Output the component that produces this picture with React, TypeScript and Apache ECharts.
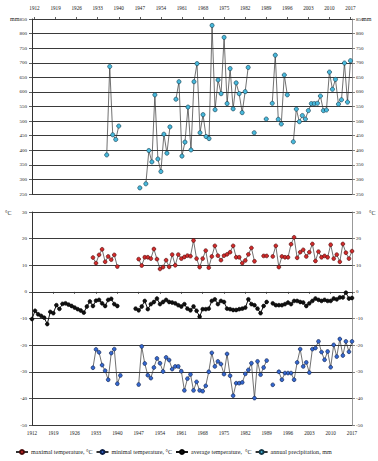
import React, { useEffect, useRef } from "react";
import * as echarts from "echarts";

const firstYear = 1912;
const lastYear = 2017;
const years: string[] = Array.from({ length: lastYear - firstYear + 1 }, (_, i) => String(firstYear + i));

// annual precipitation, mm (from 1936; null = no data)
const precipStart = 1936;
const precipValues: (number | null)[] = [
  384, 687, 453, 437, 483, null, null, null, null, null, null,
  271, null, 285, 399, 360, 590, 370, 327, 455, 390, 480, null,
  575, 635, 380, 428, 548, 401, 635, 697, 460, 522, 447, 440, 828, 539, 641, 594, 787, 560, 680, 542, 631, 594, 529, 601, 684,
  null, 460, null, null, null, 507, null,
  561, 726, 506, 490, 658, 590, null,
  429, 541, 498, 519, 507, 536, 560, 560, 561, 586, 536, 538, 668, 609, 643, 558, 573, 699, 565, 707,
];

// maximal temperature, °C (from 1932)
const maxTempStart = 1932;
const maxTempValues: (number | null)[] = [
  12.9, 10.8, 13.9, 16.0, 11.3, 13.3, 12.1, 13.9, 9.5,
  null, null, null, null, null, null,
  12.3, 9.9, 13.0, 13.0, 12.5, 16.1, 12.3, 8.6, 9.3, 11.9, 9.4, 14.0, 10.0, 14.0, 12.5, 13.1, 13.6, 13.4, 19.3, 12.5,
  9.3, 12.5, 15.5, 9.1, 13.3, 17.3, 13.6, 11.9, 13.6, 14.1, 14.9, 17.3, 13.0, 13.0, 10.8, 11.8, 14.1, 16.5, 11.5,
  null, null, 13.5, 13.5, null,
  13.3, 17.3, 9.3, 13.3, 13.0, 13.0, 17.9, 20.5, 12.8, 14.9, 15.8, 13.3, 14.9, 18.0, 11.6, 15.1, 13.0, 13.5, 13.0,
  17.7, 12.5, 14.0, 11.3, 18.0, 14.7, 12.5, 15.3,
];

// minimal temperature, °C (from 1932)
const minTempStart = 1932;
const minTempValues: (number | null)[] = [
  -28.5, -21.6, -22.7, -27.5, -29.6, -33.0, -23.0, -21.5, -34.5, -31.4,
  null, null, null, null, null,
  -34.8, -20.5, -26.9, -31.3, -32.4, -28.4, -25.0, -26.8, -29.9, -24.6, -25.6, -29.0, -28.0, -28.0, -29.8,
  -37.0, -32.6, -31.0, -37.0, -33.8, -37.0, -37.3, -35.3, -30.0, -22.9, -28.0, -26.1, -27.1, -30.9, -23.3,
  -31.5, -39.0, -34.3, -34.3, -34.0, -30.8, -29.3, -26.8, -39.9, -26.1, -31.1, -28.4, -25.8,
  null, -34.9, null,
  -30.0, -33.0, -30.5, -30.5, -30.5, -33.0, -26.5, -21.5, -28.0, -26.5, -30.3, -21.5, -21.1, -18.6, -22.6,
  -25.5, -22.4, -28.3, -19.9, -24.3, -17.7, -23.9, -18.6, -22.5, -18.6,
];

// average temperature, °C (from 1912)
const avgTempStart = 1912;
const avgTempValues: (number | null)[] = [
  -10.2, -7.1, -8.4, -9.0, -9.7, -12.1, -7.5, -8.0, -5.0, -6.4, -4.5, -4.3, -4.8, -5.3, -5.9, -6.5, -7.0, -7.8,
  -5.5, -3.6, -5.3, -3.3, -3.0, -4.3, -5.3, -3.0, -2.6, -4.6, -5.3,
  null, null, null, null, null,
  -6.3, -6.9, -5.5, -3.4, -6.5, -4.6, -3.8, -2.5, -4.6, -3.8, -3.0, -3.8, -4.0, -4.3, -5.0, -5.5, -4.6, -6.3,
  -6.9, -5.5, -7.1, -9.3, -6.5, -6.5, -6.3, -3.4, -2.8, -4.6, -3.4, -3.8, -6.3, -6.5, -6.8, -6.8, -6.5, -6.3,
  -5.9, -2.8, -4.6, -5.0, -6.3, -8.0, -5.3, -3.8,
  null,
  -4.3, -5.0, -5.0, -5.0, -4.6, -4.0, -4.6, -3.4, -3.4, -3.8, -4.0, -5.3, -4.3, -3.4, -2.5, -3.0, -3.4, -3.0,
  -3.4, -3.4, -2.5, -2.8, -2.1, -2.1, -0.3, -2.5, -2.3,
];

const seriesNames = [
  "maximal temperature, °C",
  "minimal temperature, °C",
  "average temperature,  °C",
  "annual precipitation, mm",
];

function alignToYears(start: number, values: (number | null)[]) {
  return years.map((y) => {
    const i = Number(y) - start;
    return i >= 0 && i < values.length ? values[i] : null;
  });
}

const serif = "'Liberation Serif', 'Times New Roman', serif";
const textColor = "#222";
const gridLineColor = "#3a3a3a";

export default function App() {
  const ref = useRef<HTMLDivElement>(null);

  useEffect(() => {
    if (!ref.current) return;
    const chart = echarts.init(ref.current, undefined, { renderer: "svg" });

    const lineSeries = (
      name: string,
      data: (number | null)[],
      xi: number,
      yi: number,
      fill: string,
      border: string,
      size: number,
      lineColor: string,
      lineWidth: number
    ) => ({
      name,
      type: "line",
      xAxisIndex: xi,
      yAxisIndex: yi,
      data,
      connectNulls: false,
      symbol: "circle",
      symbolSize: size,
      showSymbol: true,
      showAllSymbol: true,
      itemStyle: { color: fill, borderColor: border, borderWidth: 0.6 },
      lineStyle: { color: lineColor, width: lineWidth },
      emphasis: { disabled: true },
      silent: true,
    });

    const yLabel = { fontSize: 5, fontFamily: serif, color: textColor };

    chart.setOption({
      animation: false,
      backgroundColor: "#ffffff",
      grid: [
        { left: 32, top: 19, width: 320, height: 175 },
        { left: 34.5, top: 19, width: 316, height: 175 },
        { left: 32, top: 212, width: 320, height: 213 },
      ],
      xAxis: [
        { gridIndex: 0, type: "value", show: false, min: 0, max: 1 },
        {
          gridIndex: 1,
          type: "category",
          data: years,
          boundaryGap: false,
          position: "top",
          axisLine: { show: false },
          axisTick: { show: true, interval: 6, length: 2, lineStyle: { color: "#333", width: 0.8 } },
          axisLabel: { interval: 6, fontSize: 5.2, margin: 9, fontFamily: serif, color: textColor },
          splitLine: { show: false },
        },
        {
          gridIndex: 2,
          type: "category",
          data: years,
          boundaryGap: false,
          position: "bottom",
          axisLine: { show: true, lineStyle: { color: "#333", width: 1 } },
          axisTick: { show: true, interval: 6, length: 2, lineStyle: { color: "#333", width: 0.8 } },
          axisLabel: { interval: 6, fontSize: 5.2, margin: 5, fontFamily: serif, color: textColor },
          splitLine: { show: false },
        },
      ],
      yAxis: [
        {
          gridIndex: 0,
          type: "value",
          min: 250,
          max: 850,
          interval: 50,
          position: "left",
          axisLine: { show: true, lineStyle: { color: "#333", width: 1 } },
          axisTick: { show: true, length: 3, lineStyle: { color: "#333", width: 0.8 } },
          axisLabel: { ...yLabel, margin: 5 },
          splitLine: { show: true, lineStyle: { color: gridLineColor, width: 1 } },
        },
        {
          gridIndex: 0,
          type: "value",
          min: 250,
          max: 850,
          interval: 50,
          position: "right",
          axisLine: { show: true, lineStyle: { color: "#999", width: 1 } },
          axisTick: { show: true, length: 3, lineStyle: { color: "#666", width: 0.8 } },
          axisLabel: { ...yLabel, margin: 4 },
          splitLine: { show: false },
        },
        { gridIndex: 1, type: "value", min: 250, max: 850, show: false, splitLine: { show: false } },
        {
          gridIndex: 2,
          type: "value",
          min: -50,
          max: 30,
          interval: 10,
          position: "left",
          axisLine: { show: true, lineStyle: { color: "#333", width: 1 } },
          axisTick: { show: true, length: 3, lineStyle: { color: "#333", width: 0.8 } },
          axisLabel: { ...yLabel, margin: 5 },
          splitLine: { show: true, lineStyle: { color: gridLineColor, width: 1 } },
        },
        {
          gridIndex: 2,
          type: "value",
          min: -50,
          max: 30,
          interval: 10,
          position: "right",
          axisLine: { show: true, lineStyle: { color: "#999", width: 1 } },
          axisTick: { show: true, length: 3, lineStyle: { color: "#666", width: 0.8 } },
          axisLabel: { ...yLabel, margin: 4 },
          splitLine: { show: false },
        },
      ],
      legend: {
        top: 444,
        left: 10,
        itemWidth: 12,
        itemHeight: 5,
        itemGap: 3,
        textStyle: { fontSize: 6.1, fontFamily: serif, color: textColor, padding: [0, 0, 0, -2] },
        data: seriesNames,
      },
      graphic: [
        { type: "text", x: 10, y: 19, style: { text: "mm", fontSize: 6, fontFamily: serif, fill: textColor, verticalAlign: "middle" } },
        { type: "text", x: 362, y: 19, style: { text: "mm", fontSize: 6, fontFamily: serif, fill: textColor, verticalAlign: "middle" } },
        { type: "text", x: 5, y: 213, style: { text: "°C", fontSize: 6, fontFamily: serif, fill: textColor, verticalAlign: "middle" } },
        { type: "text", x: 369, y: 213, style: { text: "°C", fontSize: 6, fontFamily: serif, fill: textColor, verticalAlign: "middle" } },
      ],
      series: [
        lineSeries(seriesNames[0], alignToYears(maxTempStart, maxTempValues), 2, 3, "#d12b2b", "#4a0a0a", 3.8, "#333", 0.7),
        lineSeries(seriesNames[1], alignToYears(minTempStart, minTempValues), 2, 3, "#3568d0", "#0b1d45", 3.8, "#333", 0.7),
        lineSeries(seriesNames[2], alignToYears(avgTempStart, avgTempValues), 2, 3, "#111111", "#000000", 3.8, "#111", 1),
        lineSeries(seriesNames[3], alignToYears(precipStart, precipValues), 1, 2, "#48b9dc", "#123848", 4.2, "#333", 0.7),
      ],
    });

    return () => chart.dispose();
  }, []);

  return (
    <div
      ref={ref}
      style={{ position: "absolute", left: 0, top: 0, width: 378, height: 461, background: "#fff" }}
    />
  );
}
